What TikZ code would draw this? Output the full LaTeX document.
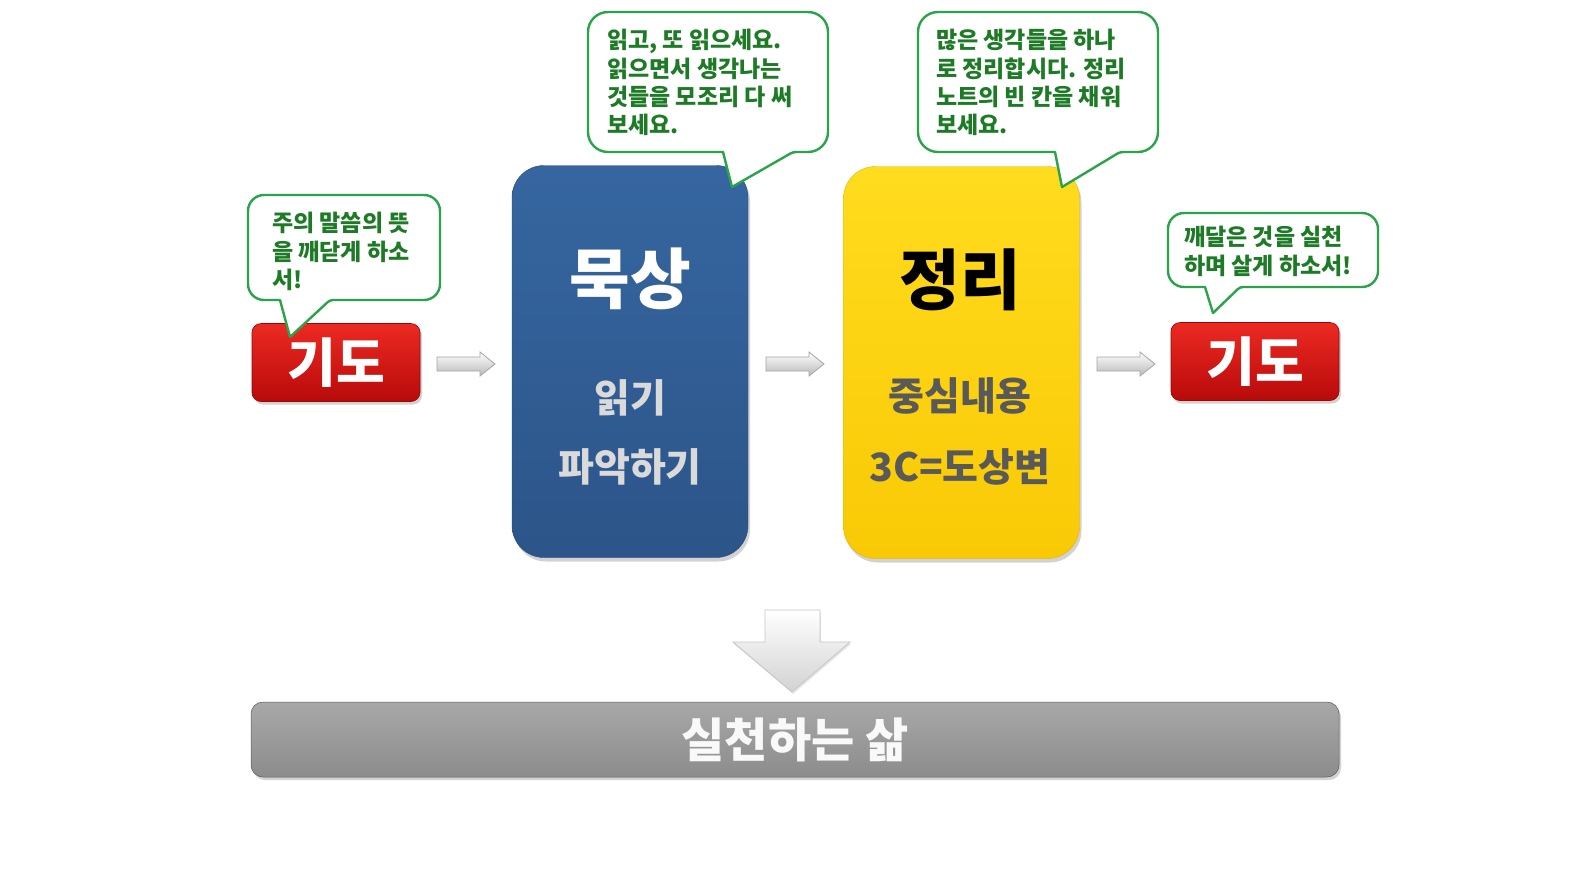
\documentclass[tikz,border=0pt]{standalone}
\usepackage{fontspec}
\newfontfamily\kr{Noto Sans CJK KR}
\usetikzlibrary{shadows,calc}
\definecolor{cgreen}{HTML}{2BA34B}
\definecolor{tgreen}{HTML}{1D7A25}
\definecolor{redtop}{HTML}{EC2A22}
\definecolor{redbot}{HTML}{B80A0A}
\definecolor{bluetop}{HTML}{3666A0}
\definecolor{bluebot}{HTML}{2C5589}
\definecolor{yeltop}{HTML}{FFDC1E}
\definecolor{yelbot}{HTML}{F9C905}
\definecolor{bartop}{HTML}{A8A8A8}
\definecolor{barbot}{HTML}{8C8C8C}
\definecolor{subgray}{HTML}{595959}
\definecolor{lightsub}{HTML}{DADADA}
\begin{document}
\begin{tikzpicture}[x=1pt,y=-1pt,
  every node/.style={font=\kr\bfseries},
  pray/.style={rounded corners=9pt, top color=redtop, bottom color=redbot, draw=redbot!80!black, line width=0.6pt,
    minimum width=168pt, minimum height=78pt, text=white, font=\kr\bfseries\fontsize{53}{53}\selectfont,
    drop shadow={shadow xshift=2pt, shadow yshift=-3pt, opacity=0.35}},
  bigbox/.style={rounded corners=32pt, minimum width=236pt, minimum height=392pt,
    drop shadow={shadow xshift=2pt, shadow yshift=-4pt, opacity=0.35}},
  callout/.style={draw=cgreen, line width=2.4pt, fill=white, line join=round},
  ctext/.style={anchor=north west, inner sep=0pt, align=left, text=tgreen, font=\kr\bfseries\fontsize{23}{28.4}\selectfont},
  smallarrow/.style={draw=gray!70, line width=0.8pt, top color=white, bottom color=gray!55},
  title/.style={font=\kr\bfseries\fontsize{66}{66}\selectfont},
  sub/.style={font=\kr\bfseries\fontsize{39}{39}\selectfont}
]
\useasboundingbox (0,0) rectangle (1591,895);
\fill[white] (0,0) rectangle (1591,895);

% main boxes
\node[bigbox, top color=bluetop, bottom color=bluebot, draw=bluebot!85!black] (muk) at (630,361.5) {};
\node[bigbox, top color=yeltop, bottom color=yelbot, draw=yelbot!90!black] (jung) at (961.5,362.5) {};
\node[pray] (pray1) at (336,362.5) {기도};
\node[pray] (pray2) at (1255,361.5) {기도};

% box texts
\node[title, text=white] (mukT) at (630,279) {묵상};
\node[sub, text=lightsub] (mukA) at (630,398) {읽기};
\node[sub, text=lightsub] (mukB) at (630,467) {파악하기};
\node[title, text=black] (jungT) at (960,280) {정리};
\node[sub, text=subgray] (jungA) at (960,396) {중심내용};
\node[sub, text=subgray] (jungB) at (960,467) {3C=도상변};

% small arrows
\foreach \cx/\nm in {466/a1, 795/a2, 1126/a3}{
  \coordinate (\nm) at (\cx,364);
  \draw[smallarrow] ($(\nm)+(-29,-7)$) -- ($(\nm)+(14,-7)$) -- ($(\nm)+(14,-12)$) -- ($(\nm)+(29,0)$)
     -- ($(\nm)+(14,12)$) -- ($(\nm)+(14,7)$) -- ($(\nm)+(-29,7)$) -- cycle;
}

% down arrow
\coordinate (dtip) at (792,692);
\draw[draw=gray!45, line width=0.8pt, top color=white, bottom color=gray!35,
  drop shadow={shadow xshift=1pt, shadow yshift=-2pt, opacity=0.2}]
  (765,610) -- (820,610) -- (820,642) -- (850,642) -- (dtip) -- (733,642) -- (765,642) -- cycle;

% bottom bar
\node[rounded corners=12pt, minimum width=1088pt, minimum height=75pt, top color=bartop, bottom color=barbot,
  draw=gray!70!black, line width=0.5pt, text=white!95!gray, font=\kr\bfseries\fontsize{47}{47}\selectfont,
  drop shadow={shadow xshift=2pt, shadow yshift=-3pt, opacity=0.35}] (life) at (795,739.5) {실천하는 삶};

% callouts
\draw[callout, rounded corners=16pt] (248,195) -- (440,195) -- (440,300) [rounded corners=3pt] -- (330,300)
  [sharp corners] -- (290,337) -- (280,300) [rounded corners=16pt] -- (248,300) -- cycle;
\node[ctext] (c1) at (272,212) {주의 말씀의 뜻\\을 깨닫게 하소\\서!};

\draw[callout, rounded corners=20pt] (588,12) -- (828,12) -- (828,152) [rounded corners=3pt] -- (793,152)
  [sharp corners] -- (732,187) -- (723,152) [rounded corners=20pt] -- (588,152) -- cycle;
\node[ctext] (c2) at (607,29) {읽고, 또 읽으세요.\\읽으면서 생각나는\\것들을 모조리 다 써\\보세요.};

\draw[callout, rounded corners=20pt] (918,12) -- (1158,12) -- (1158,152) [rounded corners=3pt] -- (1120,152)
  [sharp corners] -- (1062,187) -- (1055,152) [rounded corners=20pt] -- (918,152) -- cycle;
\node[ctext] (c3) at (936,29) {많은 생각들을 하나\\로 정리합시다. 정리\\노트의 빈 칸을 채워\\보세요.};

\draw[callout, rounded corners=16pt] (1168,213) -- (1378,213) -- (1378,287) [rounded corners=3pt] -- (1240,287)
  [sharp corners] -- (1213,313) -- (1205,287) [rounded corners=16pt] -- (1168,287) -- cycle;
\node[ctext] (c4) at (1184,226) {깨달은 것을 실천\\하며 살게 하소서!};
\end{tikzpicture}
\end{document}
